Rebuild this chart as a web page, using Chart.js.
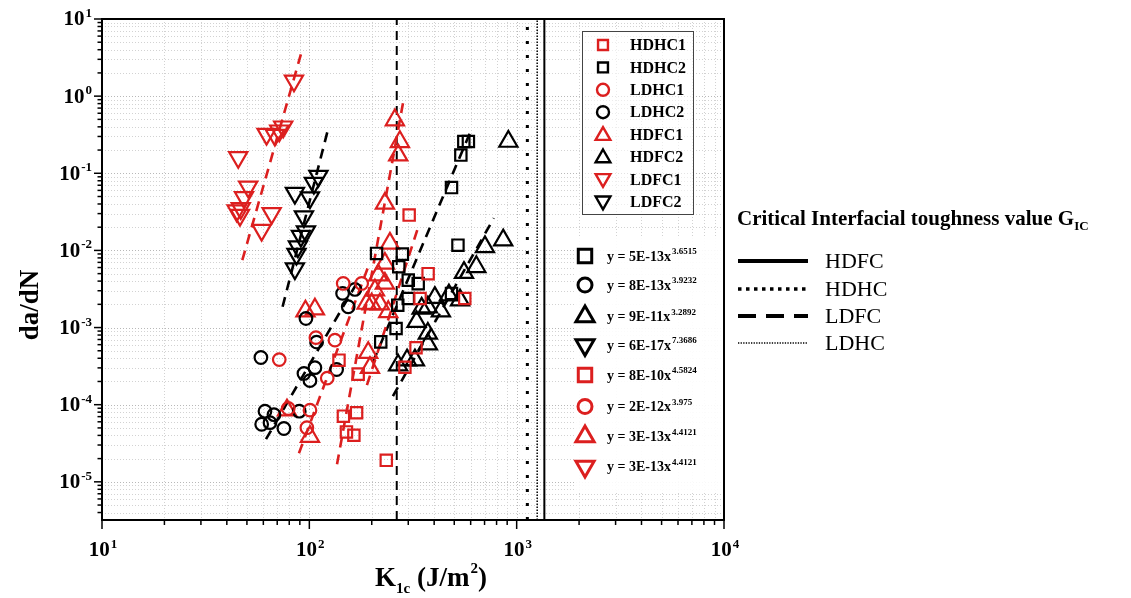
<!DOCTYPE html>
<html><head><meta charset="utf-8">
<script src="https://cdn.jsdelivr.net/npm/chart.js@4.4.1/dist/chart.umd.min.js"></script>
<style>html,body{margin:0;padding:0;background:#fff;overflow:hidden}#wrap{position:relative;width:1131px;height:598px}canvas{position:absolute;left:0;top:0}</style>
</head><body><div id="wrap"><canvas id="c" width="1131" height="598"></canvas></div>
<script>
// ---------- data (K1c in J/m^2, da/dN) ----------
const hdhc1K=[303,374,342,562,327,289,139,172,146,169,151,164,235];
const hdhc1R=[0.0287,0.0050,0.00238,0.00238,0.000548,0.000306,0.000378,0.000249,0.000071,0.0000787,0.0000444,0.0000402,0.000019];
const hdhc2K=[556,585,538,485,521,211,281,270,300,335,300,267,262,221,485];
const hdhc2R=[0.258,0.258,0.172,0.0652,0.0117,0.00914,0.00895,0.00613,0.00412,0.00371,0.00238,0.00195,0.000973,0.000652,0.00277];
const ldhc1K=[71.6,107.6,132.9,122,145.7,178.8,100.7,97.3,79.1];
const ldhc1R=[0.000384,0.00074,0.000687,0.000221,0.00373,0.00373,0.0000849,0.0000503,0.0000893];
const ldhc2K=[58.4,96.3,108.4,94.2,106.4,100.7,61.1,67.5,58.9,64.6,75.4,89.4,144.7,165.9,154,135.4];
const ldhc2R=[0.000409,0.00131,0.000647,0.000254,0.000302,0.000205,0.0000824,0.0000742,0.0000558,0.0000585,0.0000491,0.0000824,0.00277,0.00312,0.00186,0.000286];
const hdfc1K=[258.6,273.4,268.3,231.5,244.7,231.5,214.9,231.5,207.2,188.9,199.7,219,240.2,192.3,196,95.8,106.4,100.7,78];
const hdfc1R=[0.49,0.256,0.172,0.0407,0.01233,0.00678,0.00478,0.00373,0.00305,0.00205,0.00201,0.00201,0.0016,0.000472,0.000302,0.00163,0.00173,0.0000385,0.0000849];
const hdfc2K=[912,861,703,639,557,533,471,403,431,373,348,329,373,373,268,296,323];
const hdfc2R=[0.258,0.0136,0.0111,0.00613,0.00515,0.00227,0.00263,0.00244,0.00163,0.00184,0.00177,0.00119,0.000838,0.000609,0.000325,0.000378,0.000378];
const ldfc1K=[84.3,62.2,68.2,71.6,74.8,45.4,50.7,48.4,46.7,44.6,46.3,65.8,58.9];
const ldfc1R=[1.58,0.322,0.313,0.356,0.401,0.161,0.0668,0.0487,0.0351,0.0327,0.0287,0.0302,0.0183];
const ldfc2K=[85.2,110.6,105.2,100.7,94.2,96.3,91.1,88.1,86.7,85.2];
const ldfc2R=[0.0553,0.092,0.0746,0.0484,0.0274,0.0175,0.0153,0.0112,0.00895,0.00581];
// fitted power-law lines (end points)
const fitLDFC1K=[47.5,91.8], fitLDFC1R=[0.00748,3.77];
const fitLDFC2K=[74.3,123.4], fitLDFC2R=[0.00186,0.382];
const fitLDHC1K=[89.1,196], fitLDHC1R=[0.0000235,0.00705];
const fitLDHC2K=[61.8,175], fitLDHC2R=[0.0000357,0.00437];
const fitHDFC1K=[136,283], fitHDFC1R=[0.0000169,0.814];
const fitHDHC1K=[189.6,334], fitHDHC1R=[0.000179,0.0195];
const fitHDHC2K=[202.6,595], fitHDHC2R=[0.000356,0.332];
const fitHDFC2K=[253,776], fitHDFC2R=[0.000129,0.0262];
// critical interfacial toughness G_IC
const gicNames=['HDFC','HDHC','LDFC','LDHC'];
const gicValues=[1360,1126,264,1256];
// axes
const xMin=10,xMax=10000,yMin=3.2e-6,yMax=10;
const xTickPowers=[1,2,3,4];
const yTickPowers=[-5,-4,-3,-2,-1,0,1];
const seriesNames=['HDHC1','HDHC2','LDHC1','LDHC2','HDFC1','HDFC2','LDFC1','LDFC2'];
const eqOrder=['HDHC2','LDHC2','HDFC2','LDFC2','HDHC1','LDHC1','HDFC1','LDFC1'];
const eqBase=['y = 5E-13x','y = 8E-13x','y = 9E-11x','y = 6E-17x','y = 8E-10x','y = 2E-12x','y = 3E-13x','y = 3E-13x'];
const eqExp=['3.6515','3.9232','3.2892','7.3686','4.5824','3.975','4.4121','4.4121'];

const RED='#dc1f1f', BLK='#000000';
const FONT="'Liberation Serif','Times New Roman',serif";
const style={
 HDHC1:{c:RED,s:'rect',r:0,rad:8},HDHC2:{c:BLK,s:'rect',r:0,rad:8},
 LDHC1:{c:RED,s:'circle',r:0,rad:6.3},LDHC2:{c:BLK,s:'circle',r:0,rad:6.3},
 HDFC1:{c:RED,s:'triangle',r:0,rad:10.5},HDFC2:{c:BLK,s:'triangle',r:0,rad:10.5},
 LDFC1:{c:RED,s:'triangle',r:180,rad:10.5},LDFC2:{c:BLK,s:'triangle',r:180,rad:10.5}
};
function pts(K,R){return K.map((k,i)=>({x:k,y:R[i]}));}
function sc(name,K,R){const s=style[name];return {label:name,data:pts(K,R),showLine:false,pointStyle:s.s,pointRotation:s.r,pointRadius:s.rad,pointHoverRadius:s.rad,pointBorderWidth:2.2,pointBorderColor:s.c,pointBackgroundColor:'rgba(0,0,0,0)'};}
function fit(K,R,c){return {label:'fit',data:pts(K,R),showLine:true,borderColor:c,borderWidth:2.6,borderDash:[10,7],pointRadius:0,pointHoverRadius:0};}
function vline(v,dash,w){return {label:'gic',data:[{x:v,y:yMin},{x:v,y:yMax}],showLine:true,borderColor:BLK,borderWidth:w,borderDash:dash,pointRadius:0,pointHoverRadius:0};}

const datasets=[
 sc('HDHC1',hdhc1K,hdhc1R),sc('HDHC2',hdhc2K,hdhc2R),sc('LDHC1',ldhc1K,ldhc1R),sc('LDHC2',ldhc2K,ldhc2R),
 sc('HDFC1',hdfc1K,hdfc1R),sc('HDFC2',hdfc2K,hdfc2R),sc('LDFC1',ldfc1K,ldfc1R),sc('LDFC2',ldfc2K,ldfc2R),
 fit(fitLDFC1K,fitLDFC1R,RED),fit(fitLDFC2K,fitLDFC2R,BLK),fit(fitLDHC1K,fitLDHC1R,RED),fit(fitLDHC2K,fitLDHC2R,BLK),
 fit(fitHDFC1K,fitHDFC1R,RED),fit(fitHDHC1K,fitHDHC1R,RED),fit(fitHDHC2K,fitHDHC2R,BLK),fit(fitHDFC2K,fitHDFC2R,BLK),
 vline(gicValues[0],[],2),vline(gicValues[1],[3,11],3),vline(gicValues[2],[9,6],2),vline(gicValues[3],[1.5,1.5],1.5)
];

function drawPow(ctx,exp,x,y,align){
 ctx.font='bold 21px '+FONT; const w1=ctx.measureText('10').width;
 ctx.font='bold 13px '+FONT; const w2=ctx.measureText(exp).width;
 const tot=w1+w2+1; let sx = align==='right'? x-tot : x-tot/2;
 ctx.textAlign='left'; ctx.textBaseline='middle'; ctx.font='bold 21px '+FONT; ctx.fillText('10',sx,y+1);
 ctx.textBaseline='alphabetic'; ctx.font='bold 13px '+FONT; ctx.fillText(exp,sx+w1+1,y-2);
}
function marker(ctx,name,x,y,rad,lw){
 const s=style[name]; ctx.save(); ctx.strokeStyle=s.c; ctx.fillStyle='rgba(0,0,0,0)'; ctx.lineWidth=lw; ctx.setLineDash([]);
 Chart.helpers.drawPoint(ctx,{pointStyle:s.s,rotation:s.r,radius:rad,borderWidth:lw},x,y); ctx.restore();
}

const decor={id:'decor',
 beforeDatasetsDraw(chart){
  const {ctx,chartArea:a,scales:{x,y}}=chart;
  ctx.save(); ctx.beginPath(); ctx.rect(a.left,a.top,a.right-a.left,a.bottom-a.top); ctx.clip();
  ctx.lineWidth=1; ctx.setLineDash([1,2]);
  for(let p=1;p<=3;p++)for(let d=1;d<10;d++){const v=d*Math.pow(10,p); if(v<=xMin||v>=xMax)continue;
   const px=Math.round(x.getPixelForValue(v))+0.5; ctx.strokeStyle=d===1?'#b8b8b8':'#d2d2d2';
   ctx.beginPath();ctx.moveTo(px,a.top);ctx.lineTo(px,a.bottom);ctx.stroke();}
  for(let p=-6;p<=0;p++)for(let d=1;d<10;d++){const v=d*Math.pow(10,p); if(v<=yMin||v>=yMax)continue;
   const py=Math.round(y.getPixelForValue(v))+0.5; ctx.strokeStyle=d===1?'#b8b8b8':'#d2d2d2';
   ctx.beginPath();ctx.moveTo(a.left,py);ctx.lineTo(a.right,py);ctx.stroke();}
  ctx.restore();
  ctx.save(); ctx.fillStyle='rgba(255,255,255,0.9)'; ctx.fillRect(576,236,145,256); ctx.restore();
 },
 afterDatasetsDraw(chart){
  const {ctx,chartArea:a,scales:{x,y}}=chart;
  ctx.save(); ctx.setLineDash([]); ctx.fillStyle='#000'; ctx.strokeStyle='#000';
  ctx.lineWidth=2; ctx.strokeRect(a.left,a.top,a.right-a.left,a.bottom-a.top);
  ctx.lineWidth=1.5;
  for(let p=0;p<=3;p++)for(let d=1;d<10;d++){const v=d*Math.pow(10,p); if(v<xMin-1e-9||v>xMax+1e-9)continue;
   const px=x.getPixelForValue(v); const L=d===1?9:5; ctx.beginPath();ctx.moveTo(px,a.bottom);ctx.lineTo(px,a.bottom+L);ctx.stroke();}
  {const px=x.getPixelForValue(xMax);ctx.beginPath();ctx.moveTo(px,a.bottom);ctx.lineTo(px,a.bottom+9);ctx.stroke();}
  for(let p=-6;p<=1;p++)for(let d=1;d<10;d++){const v=d*Math.pow(10,p); if(v<yMin||v>yMax*1.0001)continue;
   const py=y.getPixelForValue(v); const L=d===1?8:4.5; ctx.beginPath();ctx.moveTo(a.left,py);ctx.lineTo(a.left-L,py);ctx.stroke();}
  for(const p of xTickPowers){drawPow(ctx,String(p),x.getPixelForValue(Math.pow(10,p))+1,550,'center');}
  for(const p of yTickPowers){drawPow(ctx,String(p),92,y.getPixelForValue(Math.pow(10,p)),'right');}
  ctx.save(); ctx.translate(31,305); ctx.rotate(-Math.PI/2); ctx.textAlign='center'; ctx.textBaseline='middle';
  ctx.font='bold 27px '+FONT; ctx.fillText('da/dN',0,0); ctx.restore();
  {let sx=375; ctx.textAlign='left'; ctx.textBaseline='alphabetic';
   ctx.font='bold 27px '+FONT; ctx.fillText('K',sx,586); sx+=ctx.measureText('K').width;
   ctx.font='bold 15px '+FONT; ctx.fillText('1c',sx,593); sx+=ctx.measureText('1c').width;
   ctx.font='bold 27px '+FONT; const t=' (J/m'; ctx.fillText(t,sx,586); sx+=ctx.measureText(t).width;
   ctx.font='bold 15px '+FONT; ctx.fillText('2',sx+1,573); sx+=ctx.measureText('2').width+1;
   ctx.font='bold 27px '+FONT; ctx.fillText(')',sx,586);}
  ctx.fillStyle='rgba(255,255,255,0.6)'; ctx.fillRect(582,31,111,183);
  ctx.lineWidth=1; ctx.strokeStyle='#444'; ctx.strokeRect(582.5,31.5,111,183);
  ctx.fillStyle='#000'; ctx.font='bold 16px '+FONT; ctx.textBaseline='middle'; ctx.textAlign='left';
  seriesNames.forEach((n,i)=>{const yy=45+i*22.4; const s=style[n];
   marker(ctx,n,603,yy+(s.s==='triangle'?(s.r?-1:1):0),s.s==='rect'?7:(s.s==='circle'?6:8.5),2.4);
   ctx.fillText(n,630,yy+1);});
  const eqY=[256,285,316.5,345,375,406.5,436.5,466.5];
  eqOrder.forEach((n,i)=>{const yy=eqY[i]; const s=style[n];
   marker(ctx,n,585,yy,s.s==='rect'?9.5:(s.s==='circle'?7:10.5),3);
   ctx.fillStyle='#000'; ctx.font='bold 14px '+FONT; ctx.textBaseline='middle'; ctx.fillText(eqBase[i],607,yy+1);
   const w=ctx.measureText(eqBase[i]).width; ctx.font='bold 9px '+FONT; ctx.textBaseline='alphabetic'; ctx.fillText(eqExp[i],607+w+1,yy-2);});
  ctx.fillStyle='#000'; ctx.textBaseline='alphabetic'; ctx.font='bold 21px '+FONT;
  const tt='Critical Interfacial toughness value G'; ctx.fillText(tt,737,225); const tw=ctx.measureText(tt).width;
  ctx.font='bold 13px '+FONT; ctx.fillText('IC',737+tw,230);
  const gy=[261,289,316,343]; const gd=[[],[3.5,4.5],[18,10],[1.3,1.3]]; const gw=[4,3.5,4,1.3];
  gicNames.forEach((n,i)=>{ctx.save(); ctx.strokeStyle='#000'; ctx.lineWidth=gw[i]; ctx.setLineDash(gd[i]);
   ctx.beginPath(); ctx.moveTo(738,gy[i]); ctx.lineTo(808,gy[i]); ctx.stroke(); ctx.restore();
   ctx.font='22px '+FONT; ctx.textBaseline='middle'; ctx.fillText(n,825,gy[i]+1);});
  ctx.restore();
 }
};

new Chart(document.getElementById('c'),{
 type:'scatter',
 data:{datasets},
 options:{responsive:false,animation:false,devicePixelRatio:1,
  layout:{padding:{left:0,top:19,right:407,bottom:0}},
  plugins:{legend:{display:false},tooltip:{enabled:false}},
  scales:{
   x:{type:'logarithmic',min:xMin,max:xMax,grid:{display:false},border:{display:false},ticks:{display:false},afterFit(s){s.height=78;}},
   y:{type:'logarithmic',min:yMin,max:yMax,grid:{display:false},border:{display:false},ticks:{display:false},afterFit(s){s.width=102;}}
  }},
 plugins:[decor]
});
</script></body></html>
